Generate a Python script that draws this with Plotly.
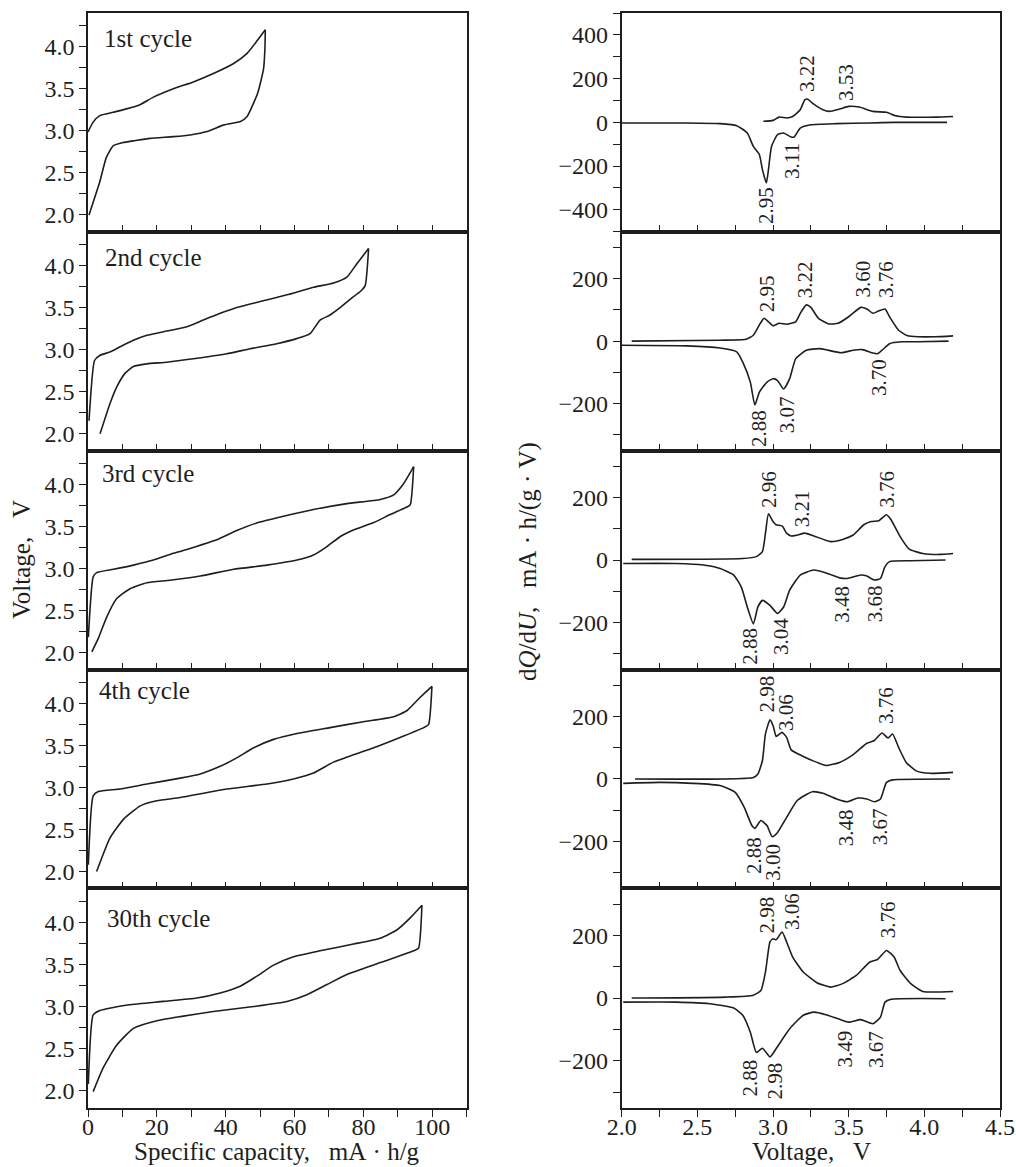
import plotly.graph_objects as go

W, H = 1016, 1167

# ---------------- data: left column (galvanostatic curves) ----------------
cycle_labels = ["1st cycle", "2nd cycle", "3rd cycle", "4th cycle", "30th cycle"]
label_cap = [4.0, 4.4, 3.5, 2.7, 5.0]
label_volt = [4.10, 4.095, 4.126, 4.15, 4.04]

c1_up_cap = [0, 1.45, 3.4, 7.3, 11.2, 15.1, 19.0, 24.8, 30.6, 36.4, 42.3, 46.2, 51.5]
c1_up_v = [2.985, 3.10, 3.18, 3.22, 3.26, 3.31, 3.40, 3.50, 3.58, 3.68, 3.80, 3.92, 4.20]
c1_lo_cap = [51.5, 51.4, 51.0, 49.3, 46.2, 44.3, 39.5, 34.6, 29.7, 24.8, 18.0, 13.2, 10.2, 7.3, 5.3, 3.4, 0.3]
c1_lo_v = [4.20, 3.99, 3.74, 3.45, 3.17, 3.11, 3.07, 2.99, 2.95, 2.93, 2.91, 2.88, 2.86, 2.82, 2.68, 2.39, 2.0]

c2_up_cap = [0.3, 1.9, 3.4, 6.3, 9.2, 13.2, 17.1, 22.9, 28.7, 33.5, 38.4, 43.2, 50.0, 57.8, 65.5, 71.3, 75.2, 78.1, 81.5]
c2_up_v = [2.155, 2.87, 2.93, 2.97, 3.03, 3.11, 3.17, 3.22, 3.27, 3.35, 3.43, 3.50, 3.57, 3.65, 3.74, 3.79, 3.86, 4.02, 4.20]
c2_lo_cap = [81.5, 80.5, 79.1, 76.2, 73.3, 70.3, 67.4, 64.5, 60.6, 54.8, 47.1, 40.3, 30.6, 22.9, 17.1, 13.2, 10.8, 8.4, 6.4, 3.5]
c2_lo_v = [4.20, 3.76, 3.69, 3.60, 3.50, 3.41, 3.35, 3.19, 3.13, 3.07, 3.01, 2.95, 2.89, 2.85, 2.83, 2.80, 2.72, 2.56, 2.36, 2.0]

c3_up_cap = [0.1, 1.5, 2.5, 7.4, 13.2, 19.0, 24.8, 30.6, 37.4, 43.2, 49.0, 56.8, 65.5, 75.2, 84.9, 88.8, 91.7, 94.6]
c3_up_v = [2.185, 2.90, 2.95, 2.99, 3.04, 3.10, 3.18, 3.25, 3.34, 3.45, 3.54, 3.62, 3.70, 3.77, 3.82, 3.875, 4.01, 4.21]
c3_lo_cap = [94.6, 93.6, 92.6, 87.8, 83.0, 77.1, 73.3, 69.4, 65.5, 60.7, 52.0, 42.3, 32.6, 23.8, 17.1, 12.2, 8.3, 5.4, 3.0, 1.1]
c3_lo_v = [4.21, 3.756, 3.73, 3.64, 3.545, 3.457, 3.38, 3.26, 3.16, 3.10, 3.04, 2.99, 2.91, 2.86, 2.83, 2.76, 2.64, 2.42, 2.17, 2.01]

c4_up_cap = [0.1, 1.5, 3.0, 9.3, 17.1, 26.8, 32.6, 38.4, 43.2, 48.1, 53.9, 60.7, 70.3, 80.0, 88.8, 92.6, 96.5, 99.9]
c4_up_v = [2.08, 2.90, 2.95, 2.98, 3.04, 3.11, 3.16, 3.25, 3.35, 3.47, 3.57, 3.64, 3.71, 3.78, 3.84, 3.91, 4.07, 4.20]
c4_lo_cap = [99.9, 98.9, 97.5, 91.7, 83.0, 75.2, 71.3, 65.5, 59.7, 52.0, 40.3, 26.8, 20.0, 15.2, 10.3, 6.4, 2.5]
c4_lo_v = [4.20, 3.745, 3.71, 3.61, 3.47, 3.36, 3.30, 3.17, 3.10, 3.04, 2.98, 2.88, 2.84, 2.78, 2.62, 2.40, 2.0]

c30_up_cap = [0.1, 1.5, 3.3, 11.9, 21.9, 31.6, 38.4, 44.2, 49.1, 53.9, 59.7, 67.4, 77.1, 84.9, 89.8, 93.6, 97.0]
c30_up_v = [2.08, 2.90, 2.95, 3.02, 3.06, 3.10, 3.16, 3.24, 3.36, 3.49, 3.59, 3.66, 3.74, 3.81, 3.91, 4.05, 4.20]
c30_lo_cap = [97.0, 96.0, 94.6, 84.9, 75.2, 69.4, 63.6, 57.8, 48.1, 36.4, 26.8, 20.0, 13.2, 8.3, 4.5, 1.5]
c30_lo_v = [4.20, 3.69, 3.66, 3.52, 3.38, 3.26, 3.14, 3.06, 3.00, 2.94, 2.88, 2.83, 2.74, 2.54, 2.28, 1.99]

# ---------------- data: right column (dQ/dU) ----------------
d1_ch_v = [2.936, 3.0, 3.04, 3.09, 3.13, 3.18, 3.21, 3.23, 3.26, 3.33, 3.37, 3.44, 3.50, 3.57, 3.66, 3.75, 3.81, 3.88, 3.97, 4.08, 4.19]
d1_ch_q = [5, 9, 24, 20, 27, 58, 103, 106, 88, 58, 50, 61, 73, 70, 50, 46, 30, 24, 23, 24, 27]
d1_dis_v = [2.0, 2.43, 2.65, 2.76, 2.83, 2.87, 2.91, 2.93, 2.956, 2.97, 2.99, 3.03, 3.07, 3.12, 3.14, 3.18, 3.25, 3.42, 3.64, 3.80, 4.15]
d1_dis_q = [-3, -3, -6, -15, -49, -110, -148, -216, -277, -216, -110, -56, -49, -67, -67, -26, -11, -6, -3, 0, 0]

d2_ch_v = [2.066, 2.65, 2.82, 2.87, 2.91, 2.94, 2.97, 3.0, 3.04, 3.09, 3.15, 3.18, 3.22, 3.25, 3.30, 3.37, 3.43, 3.50, 3.58, 3.62, 3.66, 3.70, 3.74, 3.77, 3.83, 3.89, 3.96, 4.07, 4.19]
d2_ch_q = [0, 3, 6, 19, 52, 73, 62, 49, 57, 54, 62, 89, 116, 108, 73, 55, 57, 78, 108, 103, 89, 97, 103, 78, 35, 17, 14, 14, 17]
d2_dis_v = [2.0, 2.43, 2.65, 2.76, 2.80, 2.85, 2.88, 2.91, 2.96, 3.0, 3.03, 3.07, 3.11, 3.15, 3.22, 3.31, 3.45, 3.53, 3.59, 3.66, 3.69, 3.72, 3.77, 3.85, 3.96, 4.16]
d2_dis_q = [-13, -15, -22, -34, -67, -131, -204, -163, -131, -120, -126, -153, -120, -56, -29, -24, -37, -29, -27, -38, -40, -29, -8, -2, -2, 0]

d3_ch_v = [2.066, 2.80, 2.89, 2.93, 2.95, 2.97, 3.0, 3.02, 3.06, 3.09, 3.12, 3.16, 3.21, 3.27, 3.38, 3.46, 3.53, 3.60, 3.65, 3.70, 3.75, 3.78, 3.84, 3.90, 3.99, 4.10, 4.19]
d3_ch_q = [2, 5, 11, 27, 86, 148, 123, 113, 109, 86, 77, 80, 86, 77, 59, 66, 80, 113, 123, 126, 145, 129, 75, 35, 21, 18, 21]
d3_dis_v = [2.01, 2.36, 2.54, 2.65, 2.74, 2.79, 2.83, 2.87, 2.90, 2.93, 2.98, 3.03, 3.07, 3.11, 3.18, 3.27, 3.36, 3.44, 3.49, 3.58, 3.62, 3.67, 3.71, 3.74, 3.77, 3.91, 4.14]
d3_dis_q = [-11, -11, -16, -27, -48, -86, -150, -204, -150, -129, -145, -171, -150, -96, -48, -32, -43, -57, -59, -48, -51, -64, -59, -21, -5, -2, 0]

d4_ch_v = [2.088, 2.87, 2.90, 2.93, 2.95, 2.98, 3.0, 3.02, 3.03, 3.06, 3.09, 3.12, 3.20, 3.27, 3.35, 3.44, 3.53, 3.62, 3.67, 3.72, 3.76, 3.79, 3.83, 3.88, 3.95, 4.04, 4.19]
d4_ch_q = [0, 5, 16, 59, 144, 189, 171, 136, 139, 149, 133, 93, 72, 57, 43, 53, 78, 114, 123, 147, 131, 144, 101, 53, 25, 18, 21]
d4_dis_v = [2.01, 2.25, 2.47, 2.65, 2.75, 2.81, 2.86, 2.88, 2.92, 2.96, 2.995, 3.03, 3.09, 3.16, 3.26, 3.33, 3.42, 3.49, 3.56, 3.62, 3.67, 3.71, 3.75, 3.79, 4.17]
d4_dis_q = [-14, -11, -14, -21, -43, -91, -149, -158, -133, -149, -185, -171, -123, -69, -41, -46, -64, -73, -61, -64, -73, -64, -11, -3, 0]

d30_ch_v = [2.066, 2.69, 2.87, 2.92, 2.95, 2.98, 3.0, 3.02, 3.06, 3.09, 3.13, 3.20, 3.29, 3.38, 3.46, 3.55, 3.64, 3.69, 3.75, 3.80, 3.84, 3.91, 3.99, 4.19]
d30_ch_q = [0, 3, 9, 24, 83, 179, 189, 186, 211, 179, 131, 83, 49, 35, 46, 72, 115, 123, 152, 131, 88, 46, 21, 21]
d30_dis_v = [2.01, 2.36, 2.58, 2.74, 2.80, 2.85, 2.89, 2.93, 2.98, 3.02, 3.11, 3.20, 3.27, 3.35, 3.44, 3.50, 3.58, 3.66, 3.71, 3.74, 3.78, 4.14]
d30_dis_q = [-13, -13, -18, -32, -55, -109, -174, -160, -188, -162, -98, -55, -45, -53, -68, -77, -69, -82, -61, -13, -4, -2]

# peak labels: (voltage position, dQ/dU position, text)
peaks1 = [(3.22, 222, "3.22"), (3.487, 183, "3.53"), (3.124, -178, "3.11"), (2.958, -379, "2.95")]
peaks2 = [(2.958, 152, "2.95"), (3.211, 198, "3.22"), (3.597, 198, "3.60"), (3.751, 198, "3.76"),
          (3.696, -117, "3.70"), (2.903, -280, "2.88"), (3.09, -235, "3.07")]
peaks3 = [(2.969, 225, "2.96"), (3.196, 165, "3.21"), (3.751, 227, "3.76"), (2.848, -277, "2.88"),
          (3.057, -244, "3.04"), (3.454, -141, "3.48"), (3.674, -141, "3.68")]
peaks4 = [(2.958, 272, "2.98"), (3.09, 213, "3.06"), (3.751, 235, "3.76"), (2.87, -245, "2.88"),
          (3.002, -267, "3.00"), (3.487, -155, "3.48"), (3.703, -153, "3.67")]
peaks30 = [(2.958, 266, "2.98"), (3.124, 277, "3.06"), (3.762, 249, "3.76"), (2.848, -257, "2.88"),
           (3.013, -263, "2.98"), (3.476, -164, "3.49"), (3.685, -164, "3.67")]

# tick labels
cap_ticks = [0, 10, 20, 30, 40, 50, 60, 70, 80, 90, 100, 110]
cap_ticktext = ["0", "", "20", "", "40", "", "60", "", "80", "", "100", ""]
volt_ticks = [2.0, 2.25, 2.5, 2.75, 3.0, 3.25, 3.5, 3.75, 4.0, 4.25]
volt_ticktext = ["2.0", "", "2.5", "", "3.0", "", "3.5", "", "4.0", ""]
dv_ticks = [2.0, 2.25, 2.5, 2.75, 3.0, 3.25, 3.5, 3.75, 4.0, 4.25, 4.5]
dv_ticktext = ["2.0", "", "2.5", "", "3.0", "", "3.5", "", "4.0", "", "4.5"]
dq1_ticks = [-500, -400, -300, -200, -100, 0, 100, 200, 300, 400, 500]
dq1_ticktext = ["", "\u2212400", "", "\u2212200", "", "0", "", "200", "", "400", ""]
dq_ticks = [-300, -200, -100, 0, 100, 200, 300]
dq_ticktext = ["", "\u2212200", "", "0", "", "200", ""]

left_sets = [
    (c1_up_cap, c1_up_v, c1_lo_cap, c1_lo_v),
    (c2_up_cap, c2_up_v, c2_lo_cap, c2_lo_v),
    (c3_up_cap, c3_up_v, c3_lo_cap, c3_lo_v),
    (c4_up_cap, c4_up_v, c4_lo_cap, c4_lo_v),
    (c30_up_cap, c30_up_v, c30_lo_cap, c30_lo_v),
]
right_sets = [
    (d1_ch_v, d1_ch_q, d1_dis_v, d1_dis_q, peaks1),
    (d2_ch_v, d2_ch_q, d2_dis_v, d2_dis_q, peaks2),
    (d3_ch_v, d3_ch_q, d3_dis_v, d3_dis_q, peaks3),
    (d4_ch_v, d4_ch_q, d4_dis_v, d4_dis_q, peaks4),
    (d30_ch_v, d30_ch_q, d30_dis_v, d30_dis_q, peaks30),
]

# ---------------- figure ----------------
FONT = "Liberation Serif, DejaVu Serif, serif"
INK = "#1e1e1e"
LINE = dict(color=INK, width=1.6, shape="spline", smoothing=0.5)
TICK_FONT = dict(family=FONT, size=24, color=INK)
PEAK_FONT = dict(family=FONT, size=21, color=INK)
LABEL_FONT = dict(family=FONT, size=25, color=INK)
TITLE_FONT = dict(family=FONT, size=25, color=INK)

fig = go.Figure()

panel_top = [13.0, 231.7, 450.6, 669.5, 888.4]
panel_bot = [231.7, 450.6, 669.5, 888.4, 1107.7]
left_x = [88.0 / W, 466.7 / W]
right_x = [621.7 / W, 1000.0 / W]

def ax_name(kind, i):
    return kind + ("axis" if i == 1 else "axis%d" % i)

def ref(kind, i):
    return kind + ("" if i == 1 else str(i))

common = dict(showline=True, mirror=True, linecolor=INK, linewidth=1.6,
              showgrid=False, zeroline=False, ticklen=7, tickwidth=1.4,
              tickcolor=INK, tickfont=TICK_FONT, automargin=False)

annotations = []
layout_axes = {}
for k in range(5):
    ydom = [1 - panel_bot[k] / H, 1 - panel_top[k] / H]
    last = (k == 4)
    # left panel
    il = 2 * k + 1
    ucap, uv, lcap, lv = left_sets[k]
    for xs, ys in ((ucap, uv), (lcap, lv)):
        fig.add_trace(go.Scatter(x=xs, y=ys, mode="lines", line=LINE,
                                 xaxis=ref("x", il), yaxis=ref("y", il),
                                 showlegend=False, hoverinfo="skip"))
    layout_axes[ax_name("x", il)] = dict(common, domain=left_x, anchor=ref("y", il),
                                         range=[0, 110], tickvals=cap_ticks,
                                         ticktext=cap_ticktext if last else [""] * len(cap_ticks),
                                         ticks="outside" if last else "inside",
                                         ticklabelstandoff=-10 if last else 0)
    layout_axes[ax_name("y", il)] = dict(common, domain=ydom, anchor=ref("x", il),
                                         range=[1.8, 4.4], tickvals=volt_ticks,
                                         ticktext=volt_ticktext, ticks="outside")
    annotations.append(dict(x=label_cap[k], y=label_volt[k], xref=ref("x", il), yref=ref("y", il),
                            text=cycle_labels[k], showarrow=False, xanchor="left", yanchor="middle",
                            font=LABEL_FONT))
    # right panel
    ir = 2 * k + 2
    cv, cq, dv, dq, peaks = right_sets[k]
    for xs, ys in ((cv, cq), (dv, dq)):
        fig.add_trace(go.Scatter(x=xs, y=ys, mode="lines", line=LINE,
                                 xaxis=ref("x", ir), yaxis=ref("y", ir),
                                 showlegend=False, hoverinfo="skip"))
    layout_axes[ax_name("x", ir)] = dict(common, domain=right_x, anchor=ref("y", ir),
                                         range=[2.0, 4.5], tickvals=dv_ticks,
                                         ticktext=dv_ticktext if last else [""] * len(dv_ticks),
                                         ticks="outside" if last else "inside",
                                         ticklabelstandoff=-10 if last else 0)
    if k == 0:
        layout_axes[ax_name("y", ir)] = dict(common, domain=ydom, anchor=ref("x", ir),
                                             range=[-500, 500], tickvals=dq1_ticks,
                                             ticktext=dq1_ticktext, ticks="outside")
    else:
        layout_axes[ax_name("y", ir)] = dict(common, domain=ydom, anchor=ref("x", ir),
                                             range=[-350, 350], tickvals=dq_ticks,
                                             ticktext=dq_ticktext, ticks="outside")
    for (px, py, txt) in peaks:
        annotations.append(dict(x=px, y=py, xref=ref("x", ir), yref=ref("y", ir), text=txt,
                                textangle=-90, showarrow=False, xanchor="center", yanchor="middle",
                                font=PEAK_FONT))

# axis titles
NB = "\u00a0"
annotations += [
    dict(x=277 / W, y=1 - 1151 / H, xref="paper", yref="paper",
         text="Specific capacity," + NB * 3 + "mA" + NB + "\u00b7" + NB + "h/g",
         showarrow=False, xanchor="center", yanchor="middle", font=TITLE_FONT),
    dict(x=811 / W, y=1 - 1151 / H, xref="paper", yref="paper",
         text="Voltage," + NB * 3 + "V", showarrow=False, xanchor="center", yanchor="middle",
         font=TITLE_FONT),
    dict(x=22 / W, y=1 - 560 / H, xref="paper", yref="paper",
         text="Voltage," + NB * 3 + "V", textangle=-90, showarrow=False,
         xanchor="center", yanchor="middle", font=TITLE_FONT),
    dict(x=528 / W, y=1 - 562 / H, xref="paper", yref="paper",
         text="d<i>Q</i>/d<i>U</i>," + NB * 3 + "mA" + NB + "\u00b7" + NB + "h/(g" + NB + "\u00b7" + NB + "V)",
         textangle=-90, showarrow=False,
         xanchor="center", yanchor="middle", font=TITLE_FONT),
]

fig.update_layout(width=W, height=H, margin=dict(l=0, r=0, t=0, b=0, pad=0, autoexpand=False),
                  paper_bgcolor="white", plot_bgcolor="white",
                  annotations=annotations, showlegend=False, **layout_axes)

fig.write_html("out.html", config={"displayModeBar": False},
               post_script="document.body.style.margin='0px';document.body.style.padding='0px';")
